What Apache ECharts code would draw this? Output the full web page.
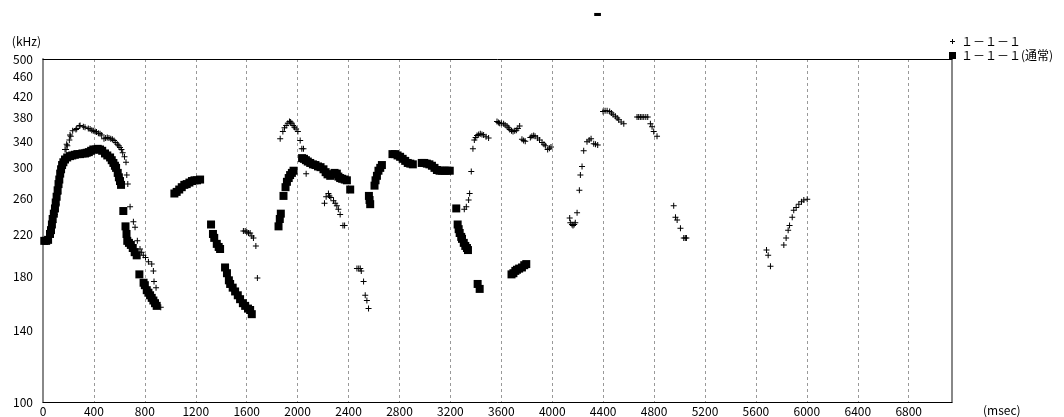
<!DOCTYPE html>
<html>
<head>
<meta charset="utf-8">
<script src="https://cdn.jsdelivr.net/npm/echarts@6/dist/echarts.min.js"></script>
<style>
  html, body { margin: 0; padding: 0; background: #fff; }
  #chart { width: 1064px; height: 417px; }
</style>
</head>
<body>
<div id="chart"></div>
<script>
// Time axis ticks (msec) and frequency ticks (kHz, log scale)
const timeTicks = [0, 400, 800, 1200, 1600, 2000, 2400, 2800, 3200, 3600, 4000, 4400, 4800, 5200, 5600, 6000, 6400, 6800];
const freqTicks = [100, 140, 180, 220, 260, 300, 340, 380, 420, 460, 500];
const timeMax = 7140;

const seriesNames = ['１－１－１', '１－１－１(通常)'];

// [msec, kHz] — series "1-1-1"
const callPoints = [
  [68,227],[81,232],[94,241],[107,253],[120,265],[173,327],[181,327],[186,335],[191,333],[207,342],
  [212,350],[218,348],[233,357],[259,359],[265,361],[285,365],[291,366],[317,364],[330,363],[356,361],
  [370,360],[383,358],[395,357],[409,356],[420,355],[435,353],[448,352],[461,350],[479,344],[492,345],
  [505,346],[518,345],[532,344],[545,343],[558,341],[571,338],[584,335],[595,333],[605,330],[616,327],
  [626,322],[640,316],[652,308],[658,290],[666,278],[684,250],[710,233],[723,227],[741,213],[762,205],
  [775,202],[788,199],[805,197],[828,193],[854,191],[867,185],[872,176],[888,171],[925,156],
  [1574,223],[1588,223],[1601,222],[1614,221],[1627,221],[1640,218],[1653,216],[1672,208],[1684,179],
  [1863,344],[1884,356],[1897,362],[1910,366],[1923,370],[1936,373],[1945,372],[1955,370],[1965,366],
  [1975,363],[1988,360],[2002,356],[2020,341],[2033,328],[2046,328],[2067,292],
  [2211,254],[2224,262],[2242,266],[2250,263],[2261,261],[2282,257],[2295,254],[2308,251],[2320,247],
  [2334,241],[2356,229],[2369,229],
  [2466,187],[2480,187],[2492,187],[2500,185],[2518,176],[2531,165],[2544,161],[2557,155],
  [3309,247],[3325,250],[3343,258],[3351,266],[3364,295],[3377,328],[3388,342],[3398,346],[3409,349],
  [3422,351],[3435,352],[3448,351],[3461,350],[3480,347],[3500,345],
  [3566,373],[3577,371],[3587,370],[3600,370],[3618,369],[3630,367],[3645,365],[3655,362],[3666,359],
  [3680,357],[3692,356],[3705,357],[3718,358],[3730,361],[3744,365],[3762,343],[3775,341],[3788,340],
  [3828,346],[3840,348],[3854,349],[3865,348],[3885,345],[3900,342],[3920,338],[3935,335],[3946,333],
  [3964,327],[3978,329],[3990,331],
  [4137,237],[4142,232],[4155,230],[4163,229],[4172,230],[4181,232],[4195,243],[4213,270],[4221,290],
  [4234,302],[4247,325],[4273,339],[4290,342],[4305,344],[4326,336],[4340,335],[4357,334],
  [4399,391],[4415,392],[4431,392],[4451,391],[4465,388],[4478,385],[4496,382],[4510,379],[4522,376],
  [4541,372],[4562,369],[4666,381],[4679,381],[4692,381],[4705,381],[4719,381],[4735,381],[4750,381],
  [4771,369],[4784,364],[4797,356],[4823,348],
  [4954,251],[4968,238],[4981,235],[5007,226],[5033,216],[5045,216],[5054,216],
  [5683,204],[5696,199],[5714,189],[5819,209],[5837,216],[5853,224],[5864,229],[5885,238],[5897,246],
  [5916,249],[5937,253],[5958,256],[5976,258],[6003,259]
];

// [msec, kHz] — series "1-1-1 (通常)"
const normalPoints = [
  [10,213],[25,213],[40,214],[55,220],[63,224],[70,230],[76,236],[85,242],[94,248],[100,255],
  [107,262],[115,270],[122,278],[128,284],[135,292],[142,298],[150,304],[160,308],[173,312],[190,315],
  [212,317],[230,318],[250,319],[270,320],[291,320],[310,321],[330,321],[343,322],[360,323],[378,325],
  [395,327],[415,327],[430,328],[448,327],[465,325],[487,321],[505,318],[527,315],[540,311],[553,307],
  [565,303],[574,300],[587,293],[596,287],[605,282],[613,277],
  [631,245],[648,228],[656,220],[662,213],[675,211],[690,209],[705,206],[720,202],[736,199],
  [757,182],[790,175],[800,173],[815,169],[828,167],[841,165],[854,163],[867,161],[880,159],[893,157],
  [1032,266],[1050,268],[1070,271],[1090,274],[1110,277],[1129,278],[1150,280],[1170,282],[1190,283],
  [1210,283],[1234,284],
  [1320,230],[1335,220],[1345,216],[1365,210],[1380,207],[1391,205],[1430,188],[1445,183],[1460,177],
  [1470,174],[1490,171],[1509,168],[1530,165],[1548,162],[1570,159],[1588,157],[1610,155],[1627,154],
  [1640,151],
  [1850,228],[1860,236],[1868,242],[1889,263],[1905,274],[1916,281],[1930,286],[1941,290],[1955,293],
  [1968,296],[2035,314],[2050,313],[2065,311],[2080,309],[2099,307],[2120,305],[2140,304],[2160,302],
  [2180,301],[2203,298],[2220,294],[2235,291],[2256,289],[2270,291],[2290,293],[2308,292],[2320,288],
  [2334,286],[2350,285],[2370,284],[2387,283],[2413,271],
  [2560,263],[2565,258],[2570,253],[2604,276],[2612,283],[2623,289],[2635,296],[2649,300],[2662,304],
  [2745,320],[2765,320],[2785,318],[2805,316],[2825,313],[2845,310],[2865,307],[2885,306],[2905,305],
  [2975,307],[2995,307],[3015,306],[3035,305],[3055,303],[3075,300],[3094,297],[3115,296],[3135,296],
  [3155,296],[3175,296],[3195,296],
  [3246,248],[3257,230],[3265,225],[3273,221],[3285,217],[3291,215],[3305,211],[3317,208],[3330,206],
  [3338,204],[3414,174],[3430,170],
  [3680,182],[3695,183],[3710,185],[3723,186],[3740,187],[3762,188],[3780,190],[3796,191]
];

const FONT = '"Noto Sans CJK JP", "DejaVu Sans", sans-serif';
const log = v => Math.log10(v);

// Small plus sign used for the "1-1-1" points; the legend copy carries padding so it draws smaller
const crossSymbol = 'path://M2.5,0H3.5V2.5H6V3.5H3.5V6H2.5V3.5H0V2.5H2.5Z';
const crossIcon = 'path://M0,0Z M7,7Z M3,1H4V3H6V4H4V6H3V4H1V3H3Z';

const yMin = log(freqTicks[0]);
const yMax = log(freqTicks[freqTicks.length - 1]);

const chart = echarts.init(document.getElementById('chart'), null, { renderer: 'canvas' });

chart.setOption({
  animation: false,
  backgroundColor: '#fff',
  title: {
    text: '-',
    left: 588,
    top: -1,
    textStyle: { fontSize: 22, fontWeight: 'bold', color: '#000', fontFamily: '"DejaVu Sans", sans-serif' }
  },
  legend: {
    orient: 'vertical',
    left: 949,
    top: 35,
    padding: 0,
    itemGap: 1,
    itemWidth: 7,
    itemHeight: 7,
    selectedMode: false,
    textStyle: { fontSize: 12, lineHeight: 13, color: '#000', fontFamily: FONT },
    data: [
      { name: seriesNames[0], icon: crossIcon },
      { name: seriesNames[1], icon: 'rect' }
    ]
  },
  grid: { left: 43, right: 112, top: 59, bottom: 13 },
  xAxis: [
    {
      type: 'value',
      position: 'bottom',
      min: 0,
      max: timeMax,
      interval: 400,
      name: '(msec)',
      nameLocation: 'end',
      nameGap: 31,
      nameTextStyle: { fontSize: 12, color: '#000', fontFamily: FONT, verticalAlign: 'top', padding: [2, 0, 0, 0] },
      axisLine: { show: true, onZero: false, lineStyle: { color: '#000', width: 1 } },
      axisTick: { show: false },
      axisLabel: {
        margin: 3,
        fontSize: 12,
        color: '#000',
        fontFamily: FONT,
        customValues: timeTicks,
        formatter: v => String(v)
      },
      splitLine: { show: true, lineStyle: { color: '#999', width: 1, type: [3, 3] } }
    },
    {
      type: 'value',
      position: 'top',
      min: 0,
      max: timeMax,
      axisLine: { show: true, onZero: false, lineStyle: { color: '#000', width: 1 } },
      axisTick: { show: false },
      axisLabel: { show: false },
      splitLine: { show: false }
    }
  ],
  yAxis: [
    {
      type: 'value',
      position: 'left',
      min: yMin,
      max: yMax,
      name: '(kHz)',
      nameLocation: 'end',
      nameGap: 12,
      nameTextStyle: { fontSize: 12, color: '#000', fontFamily: FONT, align: 'right', padding: [0, 2, 0, 0] },
      axisLine: { show: true, onZero: false, lineStyle: { color: '#888', width: 2 } },
      axisTick: { show: false },
      splitLine: { show: false },
      axisLabel: {
        margin: 10,
        fontSize: 12,
        color: '#000',
        fontFamily: FONT,
        customValues: freqTicks.map(log),
        formatter: v => String(Math.round(Math.pow(10, v)))
      }
    },
    {
      type: 'value',
      position: 'right',
      min: yMin,
      max: yMax,
      axisLine: { show: true, onZero: false, lineStyle: { color: '#888', width: 2 } },
      axisTick: { show: false },
      axisLabel: { show: false },
      splitLine: { show: false }
    }
  ],
  series: [
    {
      name: seriesNames[0],
      type: 'scatter',
      data: callPoints.map(([t, f]) => [t, log(f)]),
      symbol: crossSymbol,
      symbolSize: 6,
      itemStyle: { color: '#000', opacity: 1 },
      z: 4,
      silent: true
    },
    {
      name: seriesNames[1],
      type: 'scatter',
      data: normalPoints.map(([t, f]) => [t, log(f)]),
      symbol: 'rect',
      symbolSize: 8,
      itemStyle: { color: '#000', opacity: 1 },
      z: 3,
      silent: true
    }
  ]
});
</script>
</body>
</html>
